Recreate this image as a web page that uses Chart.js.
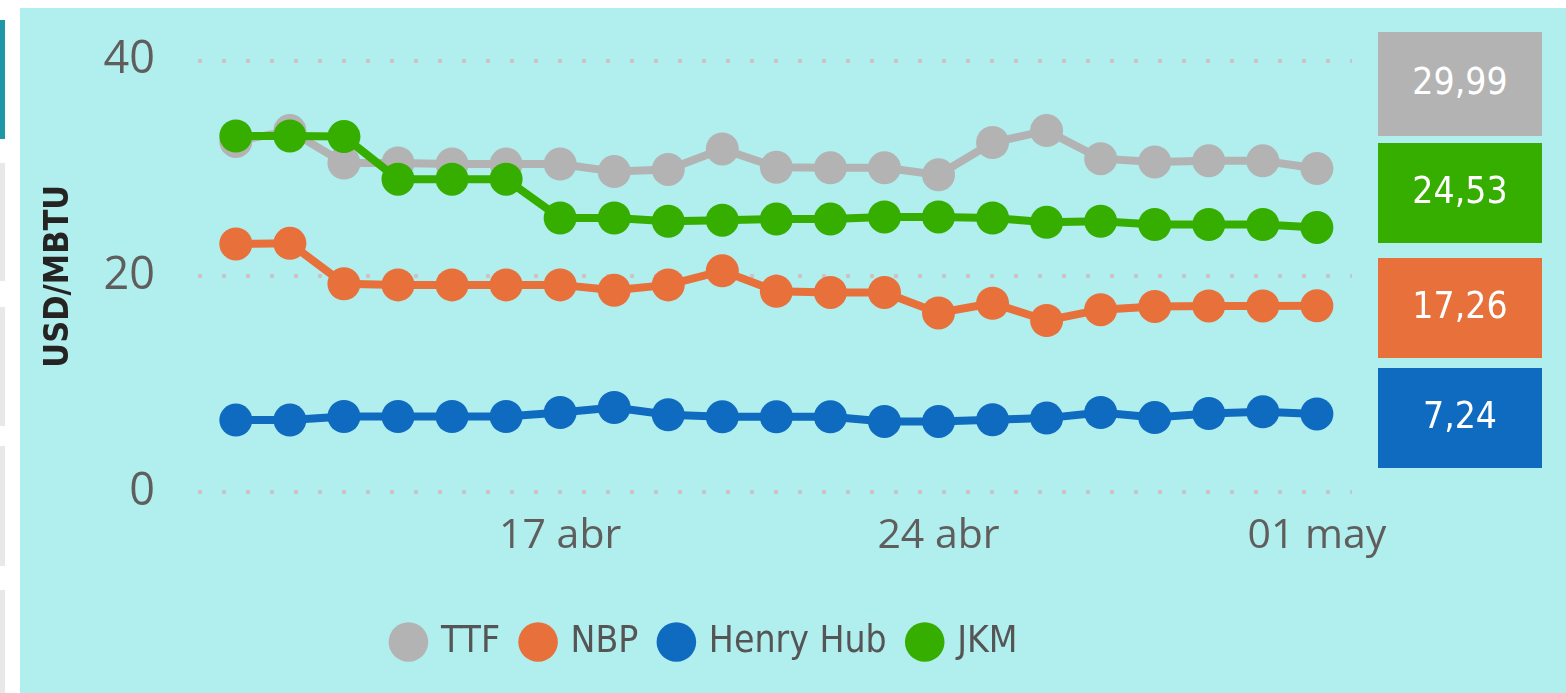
<!DOCTYPE html>
<html>
<head>
<meta charset="utf-8">
<script src="https://cdn.jsdelivr.net/npm/chart.js@4/dist/chart.umd.min.js"></script>
<style>
    body { margin: 0; width: 1566px; height: 693px; background: #ffffff; overflow: hidden; position: relative; }
    .strip { position: absolute; left: 0; width: 5px; background: #e8e8e8; }
    .panel { position: absolute; left: 20px; top: 8px; width: 1546px; height: 685px; background: #b1eeee; }
    #chartWrap { position: absolute; left: 20px; top: 8px; width: 1372px; height: 685px; }
    .valueBox {
        position: absolute; left: 1378px; width: 164px; box-sizing: border-box; padding-bottom: 6px;
        display: flex; align-items: center; justify-content: center;
        color: #ffffff; font-family: "DejaVu Sans Condensed", "DejaVu Sans", sans-serif; font-size: 37px;
    }
</style>
</head>
<body>
<div class="strip" style="top:20px;height:119px;background:#1f97a6;"></div>
<div class="strip" style="top:163px;height:118px;"></div>
<div class="strip" style="top:307px;height:119px;"></div>
<div class="strip" style="top:446px;height:120px;"></div>
<div class="strip" style="top:590px;height:103px;"></div>
<div class="panel"></div>
<div id="chartWrap"><canvas id="chart"></canvas></div>
<div id="boxes"></div>

<script>
// dias de 11 abr a 01 may
const dates = ['11 abr', '12 abr', '13 abr', '14 abr', '15 abr', '16 abr', '17 abr', '18 abr', '19 abr', '20 abr',
    '21 abr', '22 abr', '23 abr', '24 abr', '25 abr', '26 abr', '27 abr', '28 abr', '29 abr', '30 abr', '01 may'];
const tickDays = ['17 abr', '24 abr', '01 may'];

const ttf = [32.5, 33.5, 30.5, 30.5, 30.4, 30.4, 30.4, 29.7, 29.9, 31.8, 30.1, 30.05, 30.05, 29.4, 32.4, 33.5, 30.9, 30.6, 30.7, 30.7, 29.99];
const nbp = [23.0, 23.05, 19.3, 19.2, 19.2, 19.2, 19.2, 18.7, 19.2, 20.5, 18.6, 18.5, 18.5, 16.6, 17.5, 15.9, 16.9, 17.2, 17.25, 17.25, 17.26];
const henryHub = [6.67, 6.67, 7.0, 7.0, 7.0, 7.0, 7.37, 7.83, 7.16, 6.97, 6.97, 6.97, 6.54, 6.54, 6.7, 6.85, 7.37, 6.9, 7.28, 7.43, 7.24];
const jkm = [33.0, 33.0, 32.95, 29.0, 29.0, 29.0, 25.4, 25.4, 25.1, 25.2, 25.3, 25.3, 25.5, 25.5, 25.4, 25.0, 25.1, 24.8, 24.8, 24.8, 24.53];

const yTicks = [0, 20, 40];

const series = [
    { label: 'TTF', data: ttf, color: '#b3b3b3', order: 1 },
    { label: 'NBP', data: nbp, color: '#e8703a', order: 1 },
    { label: 'Henry Hub', data: henryHub, color: '#0f6bbf', order: 1 },
    { label: 'JKM', data: jkm, color: '#36ae00', order: 0 }
];

// cajas con el ultimo valor
const boxTops = [32, 143, 258, 368];
const boxOrder = ['TTF', 'JKM', 'NBP', 'Henry Hub'];
boxOrder.forEach((name, i) => {
    const s = series.find(x => x.label == name);
    const last = s.data[s.data.length - 1];
    boxes.innerHTML += `<div class="valueBox" style="top:${boxTops[i]}px;height:${i == 0 ? 104 : 100}px;background:${s.color};">${last.toFixed(2).replace('.', ',')}</div>`;
});

const ctx = document.getElementById('chart').getContext('2d');
new Chart(ctx, {
    type: 'line',
    data: {
        datasets: series.map(s => ({
            label: s.label,
            data: s.data.map((v, i) => ({ x: i, y: v })),
            borderColor: s.color,
            backgroundColor: s.color,
            borderWidth: 8,
            pointRadius: 16.5,
            pointHoverRadius: 16.5,
            pointBorderWidth: 0,
            order: s.order
        }))
    },
    options: {
        responsive: true,
        maintainAspectRatio: false,
        animation: false,
        layout: { padding: { top: 52.5, bottom: 22.5, left: 40, right: 40 } },
        plugins: {
            tooltip: { enabled: false },
            legend: {
                position: 'bottom',
                labels: {
                    usePointStyle: true,
                    pointStyle: 'circle',
                    boxWidth: 28,
                    boxHeight: 28,
                    padding: 24,
                    color: '#555555',
                    font: { family: '"DejaVu Sans Condensed", "DejaVu Sans", sans-serif', size: 37 },
                    sort: (a, b) => a.datasetIndex - b.datasetIndex
                }
            }
        },
        scales: {
            x: {
                type: 'linear',
                min: -0.7,
                max: 20.65,
                grid: { display: false },
                border: { display: false },
                afterBuildTicks: (scale) => {
                    scale.ticks = tickDays.map(d => ({ value: dates.indexOf(d) }));
                },
                afterFit: (scale) => {
                    scale.height = 107.5;
                    scale.paddingLeft = 0;
                    scale.paddingRight = 0;
                },
                ticks: {
                    padding: 12,
                    maxRotation: 0,
                    autoSkip: false,
                    color: '#605e5c',
                    font: { family: '"Open Sans", sans-serif', size: 41 },
                    callback: (v) => dates[v]
                }
            },
            y: {
                min: 0,
                max: 40,
                afterBuildTicks: (scale) => {
                    scale.ticks = yTicks.map(v => ({ value: v }));
                },
                afterFit: (scale) => {
                    scale.width = 138;
                    scale.paddingTop = 0;
                    scale.paddingBottom = 0;
                },
                border: { display: false, dash: [4, 20] },
                grid: {
                    drawTicks: false,
                    color: '#cbc3c6',
                    lineWidth: 4
                },
                ticks: {
                    padding: 43,
                    color: '#605e5c',
                    font: { family: '"Open Sans", sans-serif', size: 45 }
                },
                title: {
                    display: true,
                    text: 'USD/MBTU',
                    color: '#252423',
                    padding: { top: -21, bottom: 0 },
                    font: { family: '"DejaVu Sans Condensed", "DejaVu Sans", sans-serif', size: 34, weight: 'bold' }
                }
            }
        }
    }
});
</script>
</body>
</html>
